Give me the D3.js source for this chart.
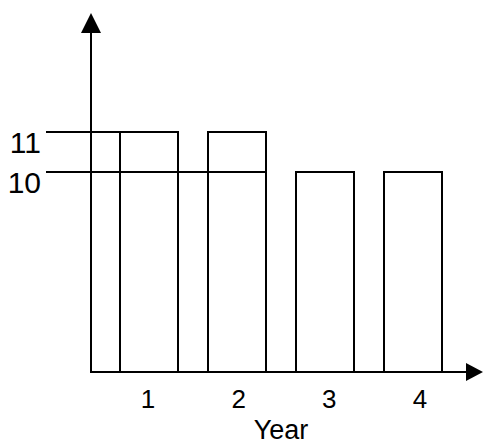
<!DOCTYPE html>
<html lang="en">
<head>
    <meta charset="utf-8">
    <title>Year bars</title>
    <script type="text/javascript" src="https://d3js.org/d3.v7.min.js"></script>
    <style>
        body { margin: 0; background: white; }
        text { font-family: "Liberation Sans", Arial, sans-serif; fill: black; }
    </style>
</head>
<body>
    <div id="chart"></div>
    <script type="text/javascript">
        // data
        const years = [1, 2, 3, 4];
        const values = [11, 11, 10, 10];
        const tickValues = [10, 11];
        // guide line for each tick runs out to the bar of this year
        const guideYears = [2, 1];

        const width = 483;
        const height = 441;
        const originX = 91;
        const originY = 372;

        const svg = d3.select("#chart")
            .append("svg")
            .attr("width", width)
            .attr("height", height);

        const x = d3.scaleBand()
            .domain(years)
            .range([105, 457])
            .paddingInner(30 / 88)
            .paddingOuter(15 / 88);

        // axis does not start at zero
        const y = d3.scaleLinear()
            .domain([5, 14])
            .range([originY, 12]);

        // year label positions
        const xLabel = d3.scaleLinear()
            .domain([1, 4])
            .range([148, 420]);

        // bars
        svg.append("g")
            .selectAll("rect")
            .data(years)
            .enter()
            .append("rect")
                .attr("x", d => x(d))
                .attr("y", (d, i) => y(values[i]))
                .attr("width", x.bandwidth())
                .attr("height", (d, i) => originY - y(values[i]))
                .attr("fill", "none")
                .attr("stroke", "black")
                .attr("stroke-width", 2);

        // guide lines from labels to the bars
        svg.append("g")
            .selectAll("line")
            .data(tickValues)
            .enter()
            .append("line")
                .attr("x1", 46)
                .attr("x2", (d, i) => x(guideYears[i]) + x.bandwidth())
                .attr("y1", d => y(d))
                .attr("y2", d => y(d))
                .attr("stroke", "black")
                .attr("stroke-width", 2);

        svg.append("g")
            .selectAll("text")
            .data(tickValues)
            .enter()
            .append("text")
                .attr("x", 41)
                .attr("y", d => y(d) + 21)
                .attr("text-anchor", "end")
                .attr("font-size", 30)
                .text(d => d);

        // axes with arrows
        svg.append("line")
            .attr("x1", originX).attr("y1", originY + 1)
            .attr("x2", originX).attr("y2", 32)
            .attr("stroke", "black").attr("stroke-width", 2);
        svg.append("path")
            .attr("d", `M${originX - 10},33 L${originX},13 L${originX + 10},33 Z`)
            .attr("fill", "black");

        svg.append("line")
            .attr("x1", originX - 1).attr("y1", originY)
            .attr("x2", 467).attr("y2", originY)
            .attr("stroke", "black").attr("stroke-width", 2);
        svg.append("path")
            .attr("d", `M466,${originY - 9} L483,${originY} L466,${originY + 9} Z`)
            .attr("fill", "black");

        // year labels
        svg.append("g")
            .selectAll("text")
            .data(years)
            .enter()
            .append("text")
                .attr("x", d => xLabel(d))
                .attr("y", 408)
                .attr("text-anchor", "middle")
                .attr("font-size", 26)
                .text(d => d);

        svg.append("text")
            .attr("x", 281)
            .attr("y", 439)
            .attr("text-anchor", "middle")
            .attr("font-size", 27)
            .text("Year");
    </script>
</body>
</html>
